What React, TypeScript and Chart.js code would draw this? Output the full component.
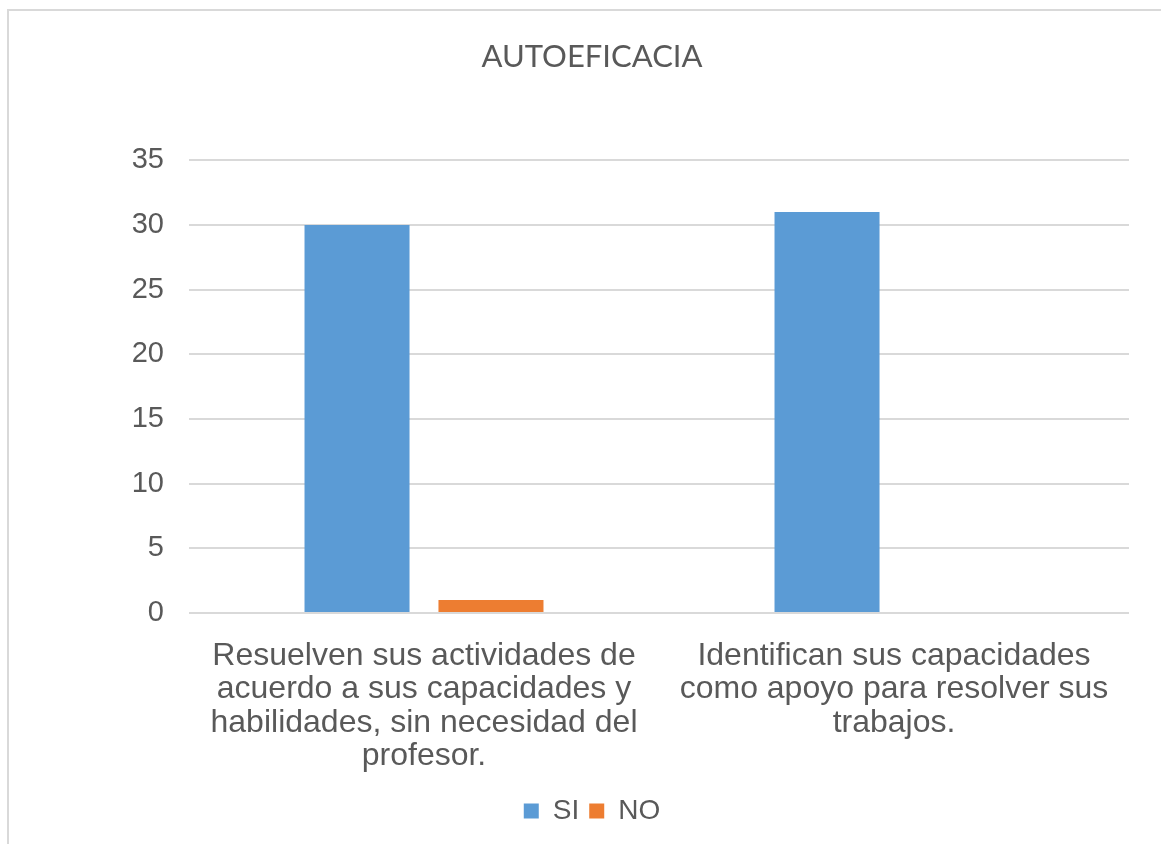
import React, { useEffect, useRef } from "react";
import { Chart, registerables } from "chart.js";

Chart.register(...registerables);

const categories: string[][] = [
  ["Resuelven sus actividades de", "acuerdo a sus capacidades y", "habilidades, sin necesidad del", "profesor."],
  ["Identifican sus capacidades", "como apoyo para resolver sus", "trabajos."],
];
const siValues = [30, 31];
const noValues = [1, 0];
const seriesNames = ["SI", "NO"];
const titleText = "AUTOEFICACIA";
const yMin = 0;
const yMax = 35;
const yStep = 5;

const TEXT = "#595959";
const GRID = "#d9d9d9";
const FONT = "'Liberation Sans', Arial, sans-serif";

export default function App() {
  const ref = useRef<HTMLCanvasElement | null>(null);

  useEffect(() => {
    if (!ref.current) return;
    const chart = new Chart(ref.current, {
      type: "bar",
      data: {
        labels: categories,
        datasets: [
          {
            label: seriesNames[0],
            data: siValues,
            backgroundColor: "#5B9BD5",
            categoryPercentage: 0.57,
            barPercentage: 0.784,
          },
          {
            label: seriesNames[1],
            data: noValues,
            backgroundColor: "#ED7D31",
            categoryPercentage: 0.57,
            barPercentage: 0.784,
          },
        ],
      },
      options: {
        responsive: false,
        animation: false,
        layout: { padding: { left: 0, right: 0, top: 0, bottom: 9 } },
        plugins: {
          title: {
            display: true,
            text: titleText,
            color: TEXT,
            font: { family: "Lato, sans-serif", size: 31, weight: "normal" },
            padding: { top: 30, bottom: 85 },
          },
          legend: {
            position: "bottom",
            labels: {
              color: TEXT,
              font: { family: FONT, size: 28 },
              boxWidth: 15,
              boxHeight: 15,
              padding: 10,
            },
          },
          tooltip: { enabled: false },
        },
        scales: {
          x: {
            grid: { display: false, drawTicks: false },
            border: { display: false },
            ticks: {
              color: TEXT,
              font: { family: FONT, size: 32, lineHeight: 1.05 },
              maxRotation: 0,
              autoSkip: false,
              padding: 26,
            },
            afterFit: (s: any) => {
              s.height = 174;
            },
          },
          y: {
            min: yMin,
            max: yMax,
            grid: { color: GRID, lineWidth: 2, drawTicks: false },
            border: { display: false },
            ticks: {
              stepSize: yStep,
              color: TEXT,
              font: { family: FONT, size: 29 },
              padding: 25,
            },
            afterFit: (s: any) => {
              s.width = 181;
            },
          },
          yRight: {
            position: "right",
            display: true,
            grid: { display: false, drawTicks: false },
            border: { display: false },
            ticks: { display: false },
            afterFit: (s: any) => {
              s.width = 47;
            },
          },
        },
      },
    });
    return () => chart.destroy();
  }, []);

  return (
    <div style={{ position: "fixed", left: 0, top: 0, width: 1161, height: 844, overflow: "hidden", background: "#fff" }}>
      <div
        style={{
          position: "absolute",
          left: 7,
          top: 9,
          width: 1200,
          height: 900,
          borderLeft: `2px solid ${GRID}`,
          borderTop: `2px solid ${GRID}`,
        }}
      />
      <canvas ref={ref} width={1168} height={836} style={{ position: "absolute", left: 8, top: 8 }} />
    </div>
  );
}
